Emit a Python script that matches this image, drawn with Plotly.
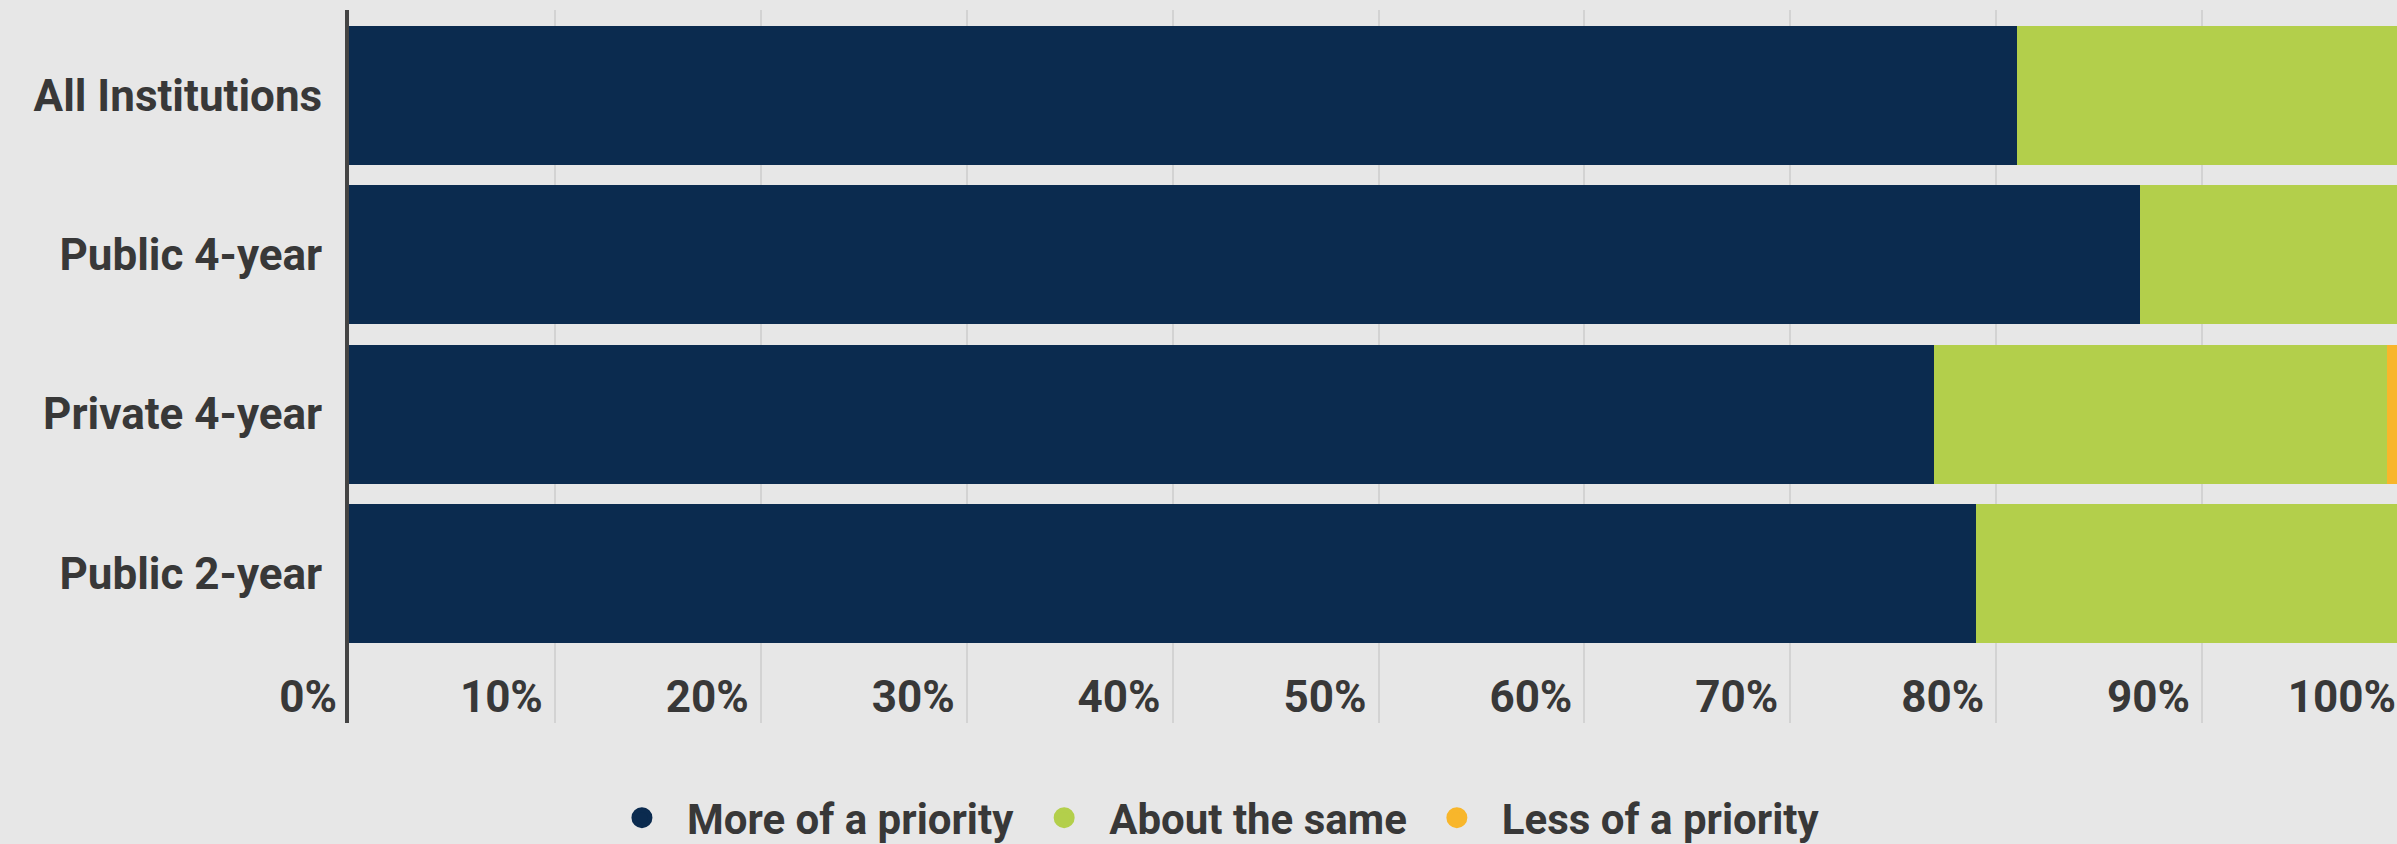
import plotly.graph_objects as go

categories = ["All Institutions", "Public 4-year", "Private 4-year", "Public 2-year"]
series_names = ["More of a priority", "About the same", "Less of a priority"]
more_priority = [81, 87, 77, 79]
about_same = [19, 13, 22, 21]
less_priority = [0, 0, 1, 0]
x_ticks = [0, 10, 20, 30, 40, 50, 60, 70, 80, 90, 100]
x_tick_labels = [f"{v}%" for v in x_ticks]

colors = ["#0b2b4f", "#b3cf4b", "#f8b62b"]
values = [more_priority, about_same, less_priority]

fig = go.Figure()
for name, vals, col in zip(series_names, values, colors):
    fig.add_trace(go.Bar(
        y=categories, x=vals, name=name, orientation="h",
        marker=dict(color=col, line=dict(width=0)),
        showlegend=False, hoverinfo="x+y+name",
    ))
# legend entries (circle symbols)
for name, col in zip(series_names, colors):
    fig.add_trace(go.Scatter(
        x=[None], y=[None], mode="markers", name=name,
        marker=dict(symbol="circle", size=16, color=col, line=dict(color=col, width=5)),
        showlegend=True,
    ))

bg = "#e7e7e7"
text_col = "#383838"
fig.update_layout(
    barmode="stack",
    bargap=0.127,
    width=2408, height=844,
    margin=dict(l=349, r=0, t=10, b=121, autoexpand=False),
    paper_bgcolor=bg, plot_bgcolor=bg,
    font=dict(family="Roboto", color=text_col),
    legend=dict(
        orientation="h", xref="container", x=0.2479, xanchor="left",
        yref="container", y=0.031, yanchor="middle", traceorder="normal",
        font=dict(family="Roboto", size=42, weight=700, color=text_col),
        itemwidth=80, bgcolor="rgba(0,0,0,0)",
    ),
    xaxis=dict(
        range=[0, 100], tickmode="array", tickvals=x_ticks, ticktext=x_tick_labels,
        showgrid=True, gridcolor="#d3d3d3", gridwidth=1.5,
        zeroline=False, showline=False, ticks="",
        ticklabelposition="inside left", ticklabeloverflow="allow",
        ticklabelstandoff=-4, ticklabelshift=-12,
        tickfont=dict(family="Roboto", size=44, weight=700, color=text_col),
        fixedrange=True,
    ),
    yaxis=dict(
        categoryorder="array", categoryarray=categories,
        range=[3.94, -0.537],
        showline=True, linecolor="#444444", linewidth=4,
        showgrid=False, zeroline=False, ticks="",
        ticklabelstandoff=14,
        tickfont=dict(family="Roboto", size=44, weight=700, color=text_col),
        fixedrange=True,
    ),
)

fig.write_html(
    "out.html",
    config={"displayModeBar": False},
    post_script="document.body.style.margin='0';document.body.style.overflow='hidden';document.documentElement.style.overflow='hidden';",
)
